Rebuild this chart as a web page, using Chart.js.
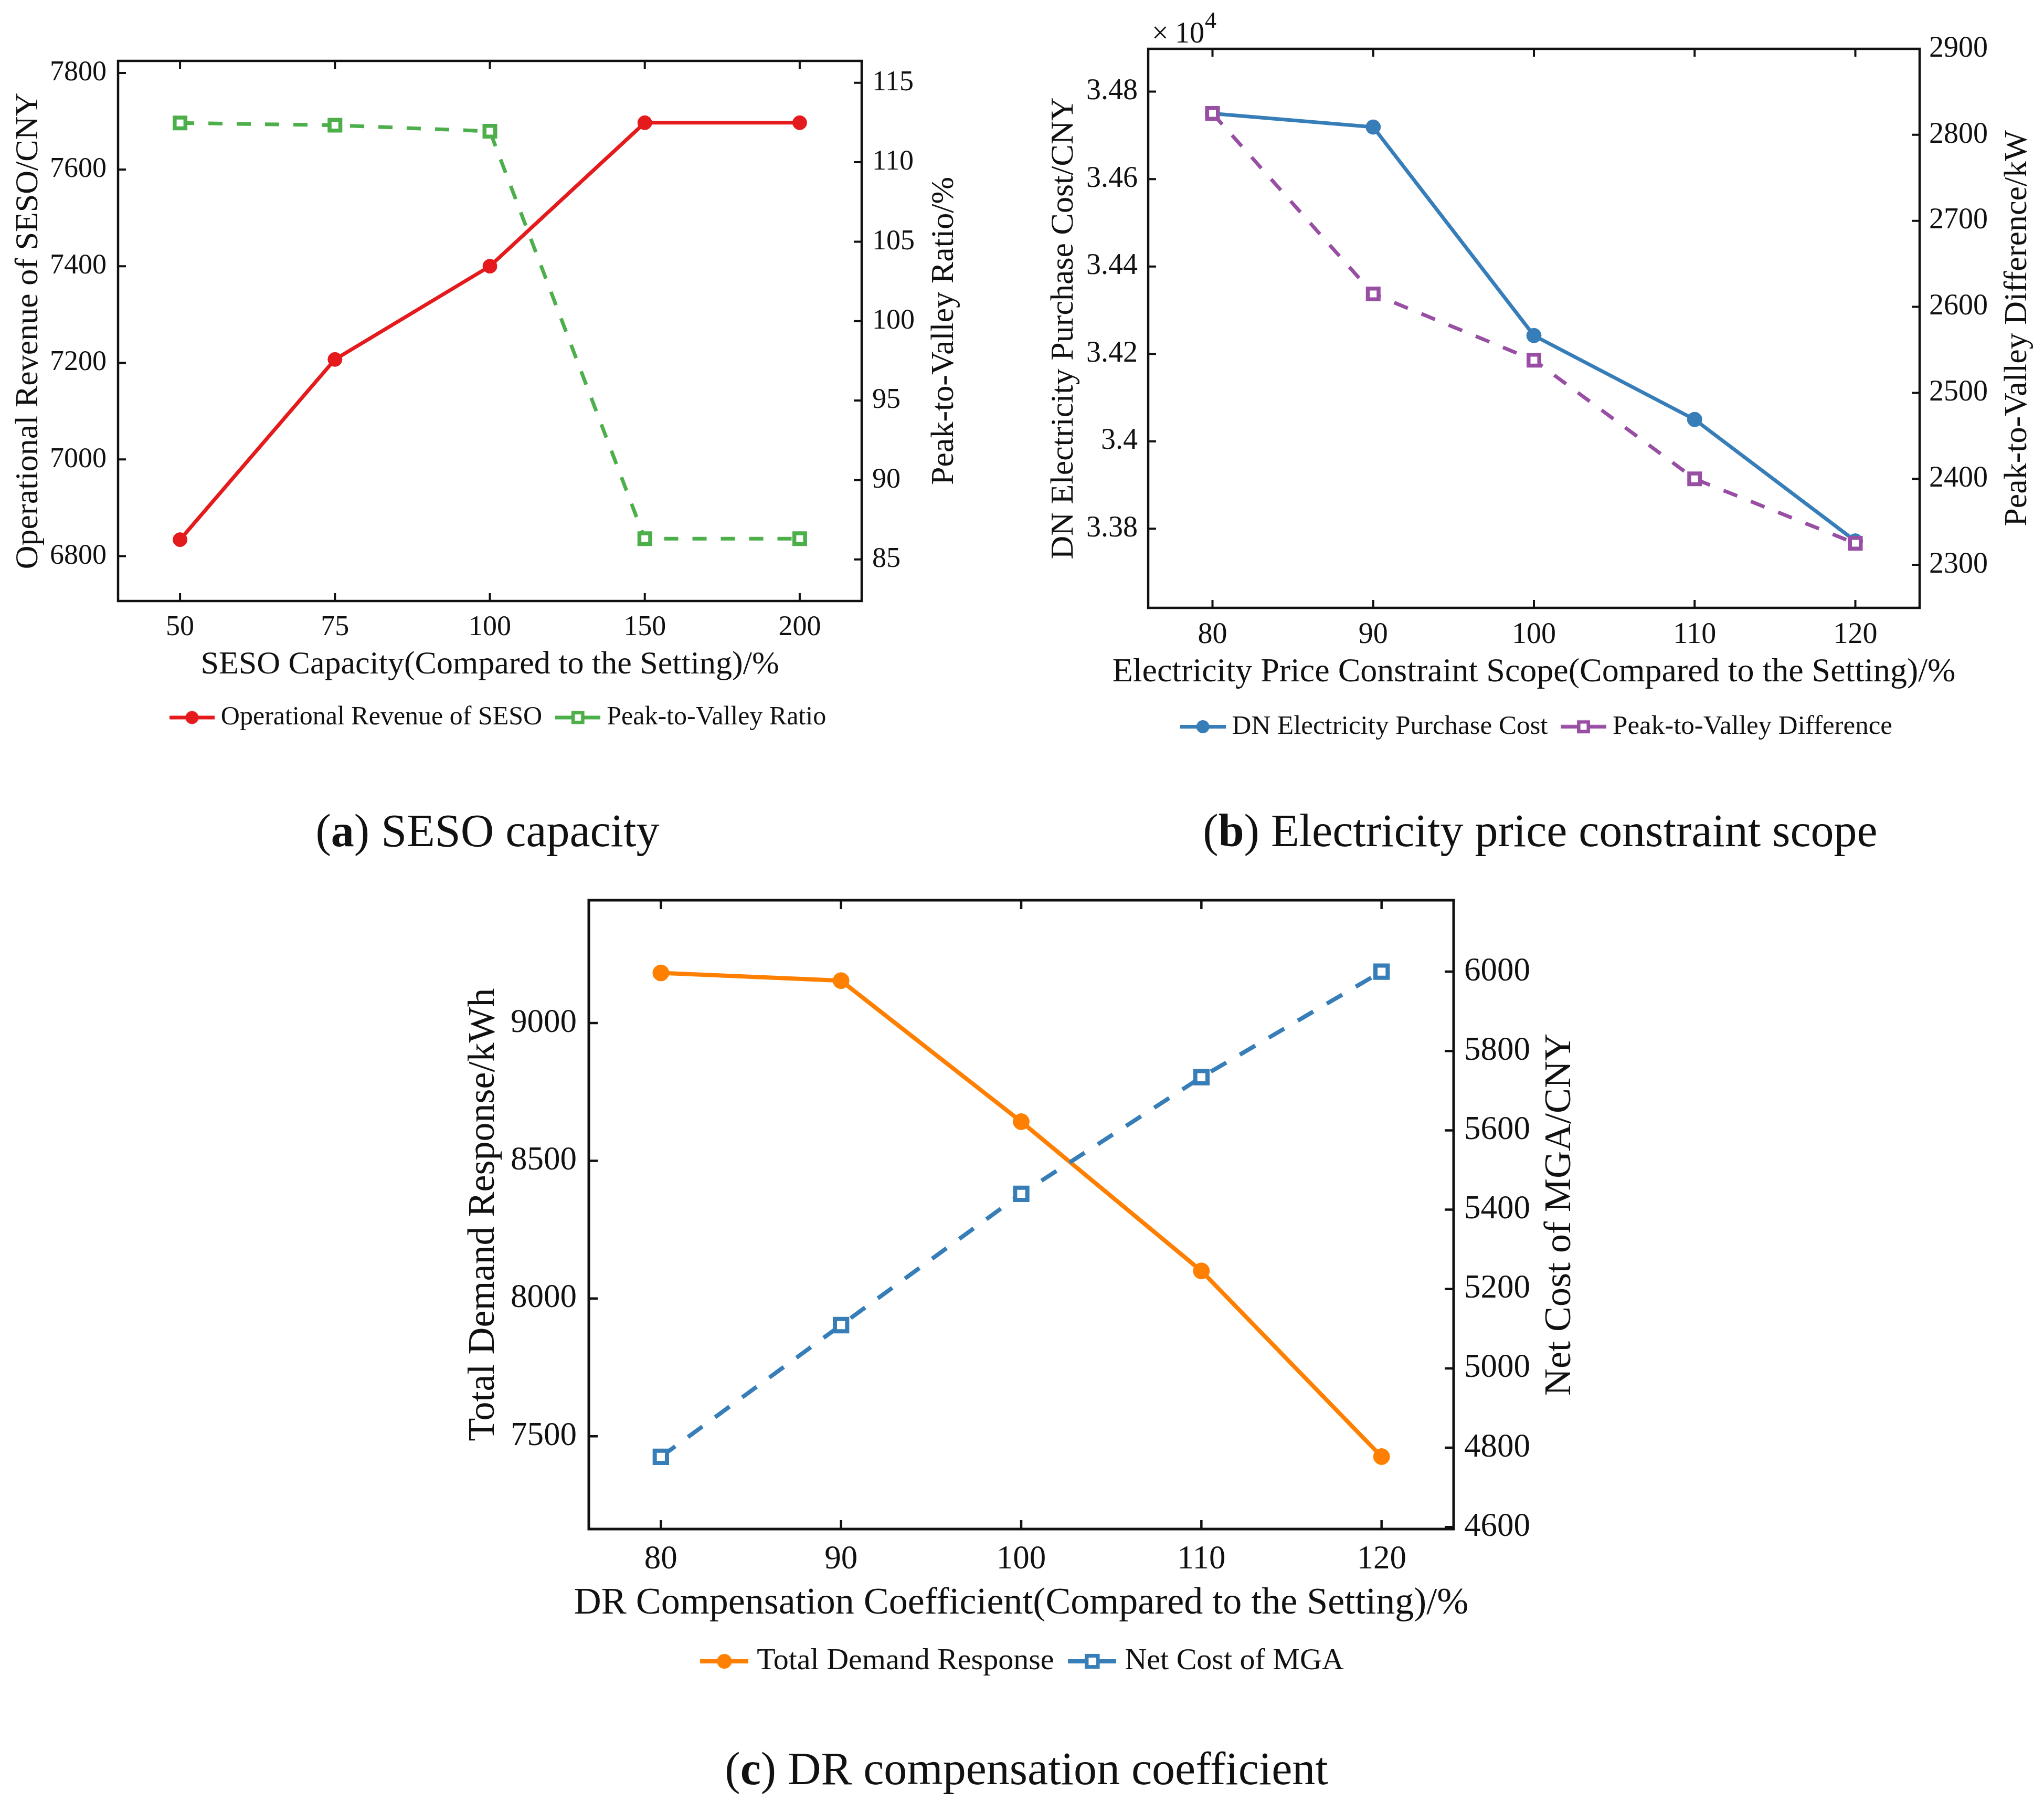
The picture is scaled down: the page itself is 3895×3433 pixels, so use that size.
<!DOCTYPE html>
<html lang="en">
<head>
    <meta charset="UTF-8" />
    <title>Sensitivity analysis - SESO / price scope / DR coefficient</title>
    <script src="https://cdn.jsdelivr.net/npm/chart.js"></script>
    <style>
        body { margin: 0; background: #fff; }
        #page { position: relative; width: 3895px; height: 3433px; background: #fff; overflow: hidden; }
        canvas { position: absolute; }
        .cap {
            position: absolute;
            font-family: 'Liberation Serif', 'Times New Roman', serif;
            font-size: 88px;
            line-height: 88px;
            color: #111;
            white-space: nowrap;
            transform: translateX(-50%);
        }
    </style>
</head>
<body>
<div id="page">
    <canvas id="chartA" width="1880" height="1402" style="left:0px;top:0px"></canvas>
    <canvas id="chartB" width="1945" height="1420" style="left:1950px;top:0px"></canvas>
    <canvas id="chartC" width="2200" height="1554" style="left:850px;top:1650px"></canvas>
    <div class="cap" style="left:929px;top:1539px">(<b>a</b>) SESO capacity</div>
    <div class="cap" style="left:2935px;top:1539px">(<b>b</b>) Electricity price constraint scope</div>
    <div class="cap" style="left:1956px;top:3326px">(<b>c</b>) DR compensation coefficient</div>
</div>

<script>
    // (a) SESO capacity
    const capacityLabels = ['50', '75', '100', '150', '200'];
    const sesoRevenue = [6834, 7207, 7400, 7697, 7697];
    const peakValleyRatio = [112.47, 112.33, 111.95, 86.3, 86.3];
    const revenueTicks = [6800, 7000, 7200, 7400, 7600, 7800];
    const ratioTicks = [85, 90, 95, 100, 105, 110, 115];

    // (b) electricity price constraint scope
    const priceScope = [80, 90, 100, 110, 120];
    const dnPurchaseCost = [34750, 34719, 34242, 34050, 33772];
    const peakValleyDiff = [2825, 2615, 2538, 2400, 2325];
    const costTicks = [33800, 34000, 34200, 34400, 34600, 34800];
    const diffTicks = [2300, 2400, 2500, 2600, 2700, 2800, 2900];

    // (c) DR compensation coefficient
    const drCoefficient = [80, 90, 100, 110, 120];
    const totalDemandResponse = [9182, 9154, 8642, 8100, 7426];
    const mgaNetCost = [4777, 5109, 5440, 5734, 6000];
    const responseTicks = [7500, 8000, 8500, 9000];
    const netCostTicks = [4600, 4800, 5000, 5200, 5400, 5600, 5800, 6000];

    const FONT = "'Liberation Serif', 'Times New Roman', serif";
    const INK = '#111';
    Chart.defaults.font.family = FONT;
    Chart.defaults.color = INK;

    const RED = '#E41A1C', GREEN = '#4DAF4A', BLUE = '#377EB8', PURPLE = '#984EA3', ORANGE = '#FF7F00';

    // matlab style box with inward ticks; bottom title may run past the box, right title reads bottom-up
    const boxPlugin = {
        id: 'box',
        afterDraw(chart, args, opts) {
            const { ctx, chartArea: a, scales } = chart;
            const t = opts.tick;
            ctx.save();
            ctx.strokeStyle = INK;
            ctx.lineWidth = opts.width;
            ctx.strokeRect(a.left, a.top, a.right - a.left, a.bottom - a.top);
            ctx.beginPath();
            scales.x.ticks.forEach(tk => {
                const px = scales.x.getPixelForValue(tk.value);
                ctx.moveTo(px, a.bottom); ctx.lineTo(px, a.bottom - t);
                ctx.moveTo(px, a.top); ctx.lineTo(px, a.top + t);
            });
            scales.y.ticks.forEach(tk => {
                const py = scales.y.getPixelForValue(tk.value);
                ctx.moveTo(a.left, py); ctx.lineTo(a.left + t, py);
            });
            scales.y1.ticks.forEach(tk => {
                const py = scales.y1.getPixelForValue(tk.value);
                ctx.moveTo(a.right, py); ctx.lineTo(a.right - t, py);
            });
            ctx.lineWidth = opts.tickWidth;
            ctx.stroke();

            ctx.fillStyle = INK;
            ctx.textAlign = 'center';
            ctx.textBaseline = 'middle';

            const bt = opts.bottomTitle;
            ctx.font = bt.size + 'px ' + FONT;
            ctx.fillText(bt.text, (a.left + a.right) / 2, scales.x.bottom - bt.size * 0.6 - bt.pad);

            const rt = opts.rightTitle;
            const s = scales.y1;
            ctx.font = rt.size + 'px ' + FONT;
            ctx.translate(s.right - rt.size * 0.6 - rt.pad, (s.top + s.bottom) / 2);
            ctx.rotate(-Math.PI / 2);
            ctx.fillText(rt.text, 0, 0);
            ctx.restore();
        }
    };

    // legend sample: line with marker in the middle
    function legendSample(color, shape, w, lw, r, sqBorder) {
        const c = document.createElement('canvas');
        c.width = w;
        c.height = Math.ceil(2 * r + 12);
        const g = c.getContext('2d');
        const cy = c.height / 2;
        g.strokeStyle = color;
        g.lineWidth = lw;
        g.beginPath(); g.moveTo(0, cy); g.lineTo(w, cy); g.stroke();
        if (shape === 'circle') {
            g.fillStyle = color;
            g.beginPath(); g.arc(w / 2, cy, r, 0, 2 * Math.PI); g.fill();
        } else {
            const s = r * Math.SQRT2;
            g.fillStyle = '#fff';
            g.fillRect(w / 2 - s / 2, cy - s / 2, s, s);
            g.lineWidth = sqBorder;
            g.strokeRect(w / 2 - s / 2, cy - s / 2, s, s);
        }
        return c;
    }

    function sideAxis(o) {
        return {
            type: 'linear',
            position: o.position,
            min: o.min,
            max: o.max,
            grid: { display: false, drawTicks: false },
            border: { display: false },
            ticks: {
                padding: o.tickPad,
                font: { size: o.tickSize },
                color: INK,
                callback: o.format || (v => String(v))
            },
            title: {
                display: !!o.title,
                text: o.title || '',
                color: INK,
                font: { size: o.titleSize },
                padding: { top: o.titlePad, bottom: 0 }
            },
            afterBuildTicks: s => { s.ticks = o.ticks.map(v => ({ value: v })); },
            afterFit: s => { s.width = o.width; }
        };
    }

    function bottomAxis(o) {
        return {
            type: 'linear',
            position: 'bottom',
            min: o.min,
            max: o.max,
            grid: { display: false, drawTicks: false },
            border: { display: false },
            ticks: {
                autoSkip: false,
                maxRotation: 0,
                padding: o.tickPad,
                font: { size: o.tickSize },
                color: INK,
                callback: o.format || (v => String(v))
            },
            afterBuildTicks: s => { s.ticks = o.ticks.map(v => ({ value: v })); },
            afterFit: s => { s.height = o.height; }
        };
    }

    function legendOpts(size, pad, boxW, samples) {
        return {
            position: 'bottom',
            labels: {
                usePointStyle: true,
                pointStyleWidth: boxW,
                padding: pad,
                color: INK,
                font: { size: size },
                sort: (a, b) => a.datasetIndex - b.datasetIndex,
                generateLabels: chart => Chart.defaults.plugins.legend.labels.generateLabels(chart)
                    .map(item => Object.assign(item, { pointStyle: samples[item.datasetIndex] }))
            }
        };
    }

    function xy(xs, ys) {
        return ys.map((y, i) => ({ x: xs[i], y: y }));
    }

    const capacityIndex = capacityLabels.map((c, i) => i);

    // ---------- (a) ----------
    new Chart(document.getElementById('chartA'), {
        type: 'line',
        data: {
            datasets: [{
                label: 'Operational Revenue of SESO',
                data: xy(capacityIndex, sesoRevenue),
                yAxisID: 'y',
                borderColor: RED,
                backgroundColor: RED,
                borderWidth: 7,
                pointStyle: 'circle',
                pointRadius: 13.5,
                pointBorderWidth: 1,
                order: 1
            }, {
                label: 'Peak-to-Valley Ratio',
                data: xy(capacityIndex, peakValleyRatio),
                yAxisID: 'y1',
                borderColor: GREEN,
                backgroundColor: '#fff',
                borderWidth: 7,
                borderDash: [27, 27],
                pointStyle: 'rect',
                pointRadius: 14.5,
                pointBorderWidth: 7.5,
                order: 0
            }]
        },
        options: {
            responsive: false,
            animation: false,
            devicePixelRatio: 1,
            layout: { padding: { left: 30, right: 0, top: 116, bottom: 0 } },
            scales: {
                x: bottomAxis({ min: -0.4, max: 4.4, ticks: capacityIndex, tickPad: 18, tickSize: 54,
                    format: v => capacityLabels[Math.round(v)], height: 159 }),
                y: sideAxis({ position: 'left', min: 6707, max: 7825, ticks: revenueTicks, tickPad: 22, tickSize: 54,
                    title: 'Operational Revenue of SESO/CNY', titleSize: 62, titlePad: -12, width: 195 }),
                y1: sideAxis({ position: 'right', min: 82.38, max: 116.38, ticks: ratioTicks, tickPad: 20, tickSize: 54,
                    width: 238 })
            },
            plugins: {
                legend: legendOpts(50, 38, 60, [
                    legendSample(RED, 'circle', 86, 7, 12.5),
                    legendSample(GREEN, 'rect', 86, 7, 13, 6.5)
                ]),
                tooltip: { enabled: false },
                box: { width: 4.5, tick: 15, tickWidth: 4,
                    bottomTitle: { text: 'SESO Capacity(Compared to the Setting)/%', size: 62, pad: 0 },
                    rightTitle: { text: 'Peak-to-Valley Ratio/%', size: 62, pad: 43 } }
            }
        },
        plugins: [boxPlugin]
    });

    // ---------- (b) ----------
    const exponentPlugin = {
        id: 'exponent',
        afterDraw(chart) {
            const { ctx, chartArea: a } = chart;
            ctx.save();
            ctx.fillStyle = INK;
            ctx.textBaseline = 'alphabetic';
            ctx.font = '56px ' + FONT;
            ctx.fillText('\u00d7', a.left + 7, a.top - 12);
            ctx.fillText('10', a.left + 51, a.top - 12);
            ctx.font = '44px ' + FONT;
            ctx.fillText('4', a.left + 108, a.top - 40);
            ctx.restore();
        }
    };

    new Chart(document.getElementById('chartB'), {
        type: 'line',
        data: {
            datasets: [{
                label: 'DN Electricity Purchase Cost',
                data: xy(priceScope, dnPurchaseCost),
                yAxisID: 'y',
                borderColor: BLUE,
                backgroundColor: BLUE,
                borderWidth: 7,
                pointStyle: 'circle',
                pointRadius: 14,
                pointBorderWidth: 1,
                order: 1
            }, {
                label: 'Peak-to-Valley Difference',
                data: xy(priceScope, peakValleyDiff),
                yAxisID: 'y1',
                borderColor: PURPLE,
                backgroundColor: '#fff',
                borderWidth: 7,
                borderDash: [28, 28],
                pointStyle: 'rect',
                pointRadius: 14.5,
                pointBorderWidth: 7.5,
                order: 0
            }]
        },
        options: {
            responsive: false,
            animation: false,
            devicePixelRatio: 1,
            layout: { padding: { left: 23, right: 0, top: 93, bottom: 0 } },
            scales: {
                x: bottomAxis({ min: 76, max: 124, ticks: priceScope, tickPad: 19, tickSize: 56, height: 163 }),
                y: sideAxis({ position: 'left', min: 33619, max: 34898, ticks: costTicks, tickPad: 20, tickSize: 56,
                    format: v => String(Math.round(v) / 1e4),
                    title: 'DN Electricity Purchase Cost/CNY', titleSize: 62, titlePad: 18, width: 215 }),
                y1: sideAxis({ position: 'right', min: 2250, max: 2900, ticks: diffTicks, tickPad: 18, tickSize: 56,
                    width: 237 })
            },
            plugins: {
                legend: legendOpts(51, 38, 60, [
                    legendSample(BLUE, 'circle', 87, 7, 12.5),
                    legendSample(PURPLE, 'rect', 87, 7, 13, 6.5)
                ]),
                tooltip: { enabled: false },
                box: { width: 4.5, tick: 15, tickWidth: 4,
                    bottomTitle: { text: 'Electricity Price Constraint Scope(Compared to the Setting)/%', size: 64, pad: 1 },
                    rightTitle: { text: 'Peak-to-Valley Difference/kW', size: 62, pad: 13 } }
            }
        },
        plugins: [boxPlugin, exponentPlugin]
    });

    // ---------- (c) ----------
    new Chart(document.getElementById('chartC'), {
        type: 'line',
        data: {
            datasets: [{
                label: 'Total Demand Response',
                data: xy(drCoefficient, totalDemandResponse),
                yAxisID: 'y',
                borderColor: ORANGE,
                backgroundColor: ORANGE,
                borderWidth: 8,
                pointStyle: 'circle',
                pointRadius: 15.5,
                pointBorderWidth: 1,
                order: 1
            }, {
                label: 'Net Cost of MGA',
                data: xy(drCoefficient, mgaNetCost),
                yAxisID: 'y1',
                borderColor: BLUE,
                backgroundColor: '#fff',
                borderWidth: 8,
                borderDash: [34, 30],
                pointStyle: 'rect',
                pointRadius: 16.5,
                pointBorderWidth: 8,
                order: 0
            }]
        },
        options: {
            responsive: false,
            animation: false,
            devicePixelRatio: 1,
            layout: { padding: { left: 8, right: 0, top: 65, bottom: 0 } },
            scales: {
                x: bottomAxis({ min: 76, max: 124, ticks: drCoefficient, tickPad: 21, tickSize: 63, height: 183 }),
                y: sideAxis({ position: 'left', min: 7163, max: 9446, ticks: responseTicks, tickPad: 23, tickSize: 63,
                    title: 'Total Demand Response/kWh', titleSize: 72, titlePad: 21, width: 264 }),
                y1: sideAxis({ position: 'right', min: 4595, max: 6180, ticks: netCostTicks, tickPad: 20, tickSize: 63,
                    width: 280 })
            },
            plugins: {
                legend: legendOpts(58, 40, 66, [
                    legendSample(ORANGE, 'circle', 92, 8, 14),
                    legendSample(BLUE, 'rect', 92, 8, 15, 7)
                ]),
                tooltip: { enabled: false },
                box: { width: 5, tick: 17, tickWidth: 4.5,
                    bottomTitle: { text: 'DR Compensation Coefficient(Compared to the Setting)/%', size: 72, pad: -2 },
                    rightTitle: { text: 'Net Cost of MGA/CNY', size: 72, pad: 34 } }
            }
        },
        plugins: [boxPlugin]
    });
</script>
</body>
</html>
